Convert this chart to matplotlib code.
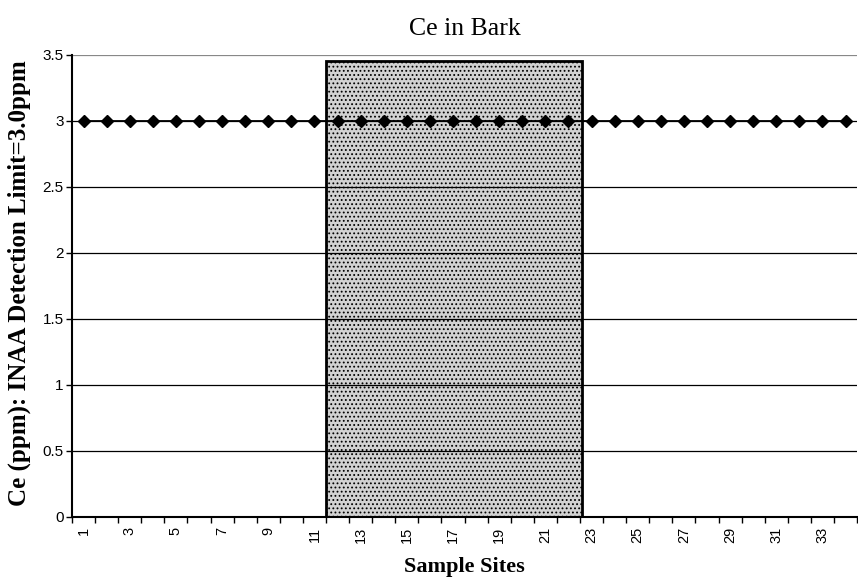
import numpy as np
import matplotlib.pyplot as plt
from matplotlib.patches import Rectangle

# Ce in bark, all sites at the INAA detection limit
sites = np.arange(1, 35)
ce_ppm = [3.0] * 34
shade_start = 11.5   # shaded block covers sites 12-22
shade_end = 22.6
shade_top = 3.45

y_ticks = [0, 0.5, 1, 1.5, 2, 2.5, 3, 3.5]
y_labels = ["0", "0.5", "1", "1.5", "2", "2.5", "3", "3.5"]

plt.rcParams["hatch.color"] = "#7a7a7a"
plt.rcParams["hatch.linewidth"] = 0.8

fig = plt.figure(figsize=(8.58, 5.82), dpi=100)
ax = fig.add_axes([0.0839, 0.1117, 0.915, 0.794])

ax.add_patch(Rectangle((shade_start, 0), shade_end - shade_start, shade_top,
                       facecolor="#d2d2d2", edgecolor="black", linewidth=2,
                       hatch="....", zorder=1))
for y in y_ticks[1:]:
    ax.axhline(y, color="black" if y < 3.5 else "#888888", linewidth=0.9, zorder=2)
ax.plot(sites, ce_ppm, color="black", linewidth=1.3, marker="D",
        markersize=6.5, zorder=4)

ax.set_xlim(0.5, 34.5)
ax.set_ylim(0, 3.5)
ax.set_yticks(y_ticks)
ax.set_yticklabels(y_labels, fontfamily="Liberation Sans", fontsize=11)

ax.set_xticks(np.arange(0.5, 35.5, 1), minor=False)
ax.set_xticklabels([])
ax.set_xticks(sites[::2], minor=True)
ax.set_xticklabels([str(s) for s in sites[::2]], minor=True, rotation=90,
                   fontfamily="Liberation Sans", fontsize=10.5)
ax.tick_params(axis="x", which="major", length=4, width=1, direction="out")
ax.tick_params(axis="x", which="minor", length=0, pad=7)
ax.tick_params(axis="y", length=4, width=1, pad=2)

for s in ["top", "right"]:
    ax.spines[s].set_visible(False)
ax.spines["left"].set_linewidth(1.5)
ax.spines["bottom"].set_linewidth(1.5)

ax.set_title("Ce in Bark", fontfamily="Liberation Serif", fontsize=18.5, pad=14)
ax.set_xlabel("Sample Sites", fontfamily="Liberation Serif", fontweight="bold",
              fontsize=16, labelpad=10)
fig.text(19 / 858, 1 - 283 / 582, "Ce (ppm): INAA Detection Limit=3.0ppm",
         fontfamily="Liberation Serif", fontweight="bold", fontsize=18,
         rotation=90, ha="center", va="center")

fig.savefig("out.png", dpi=100)
